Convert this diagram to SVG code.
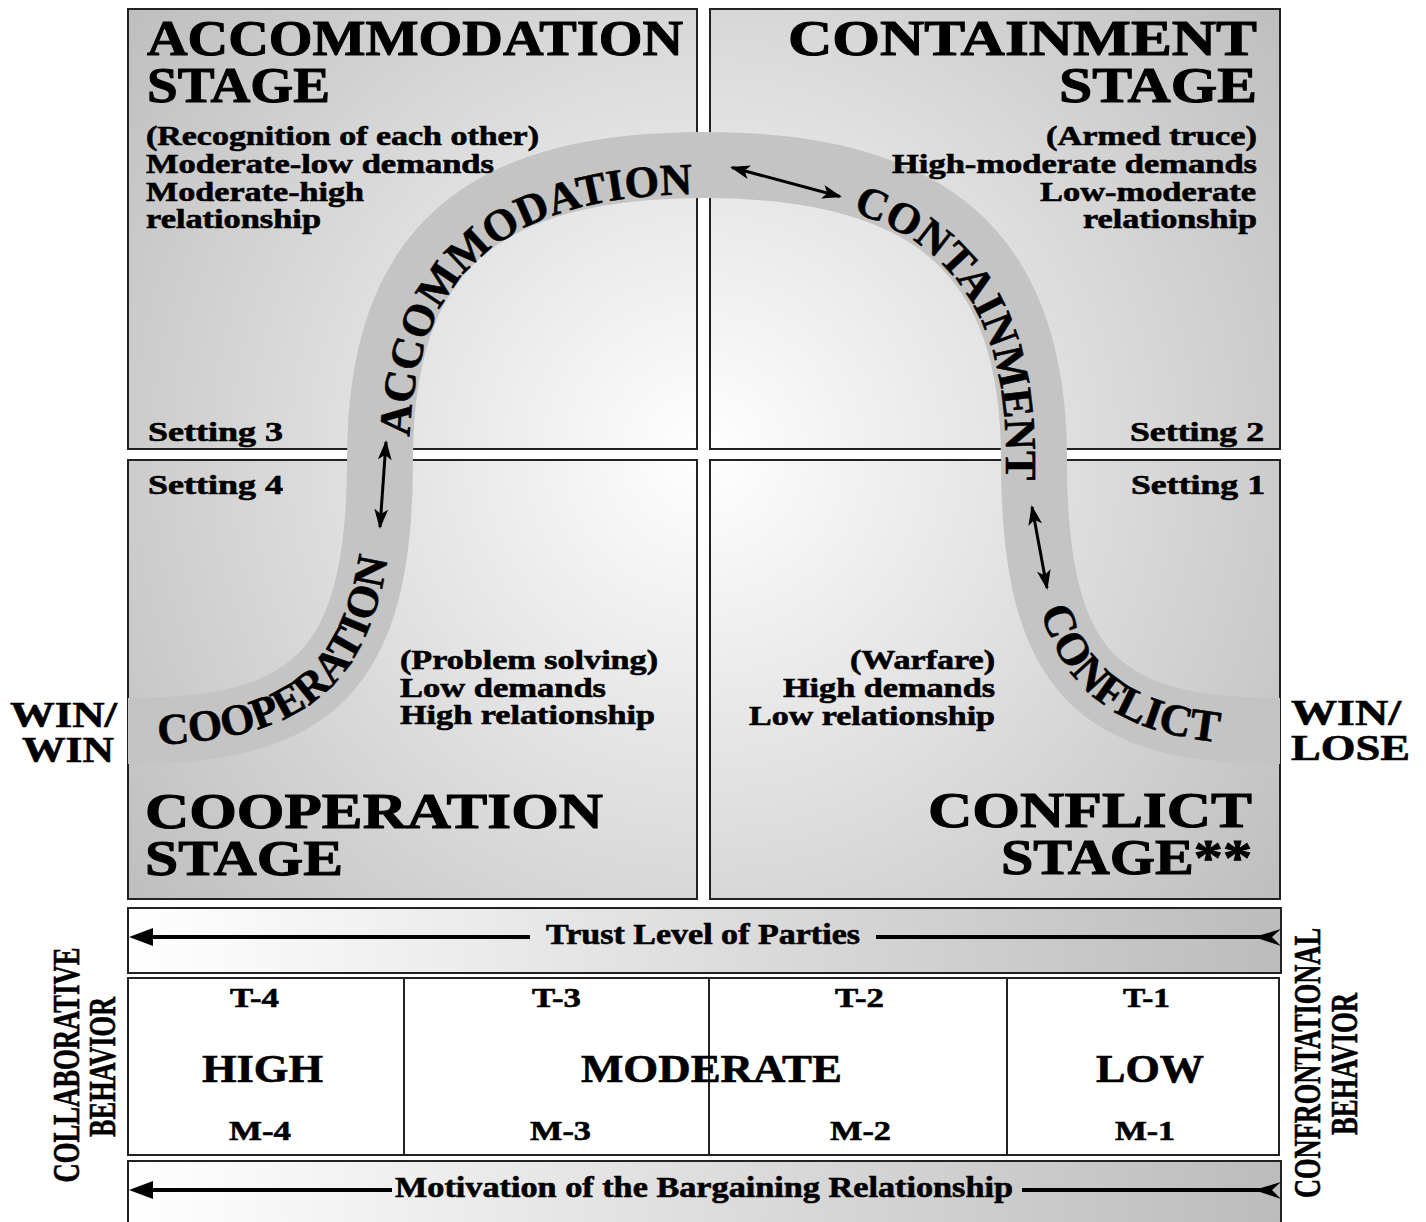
<svg xmlns="http://www.w3.org/2000/svg" width="1426" height="1222" viewBox="0 0 1426 1222">
<style>
.t{font-family:"Liberation Serif","Times New Roman",serif;font-weight:bold;fill:#000;stroke:#000;stroke-width:0.6}
.h{stroke-width:1}
.box{fill:url(#rg);stroke:#222;stroke-width:2}
.bar{fill:url(#lg);stroke:#222;stroke-width:2}
.ln{stroke:#000;stroke-width:4;fill:none}
.dbl{stroke:#000;stroke-width:3;fill:none;marker-start:url(#ah);marker-end:url(#ah)}
</style>
<defs>
<radialGradient id="rg" gradientUnits="userSpaceOnUse" cx="704" cy="454" r="740">
<stop offset="0" stop-color="#ffffff"/>
<stop offset="1" stop-color="#bdbdbd"/>
</radialGradient>
<linearGradient id="lg" x1="0" y1="0" x2="1" y2="0">
<stop offset="0" stop-color="#ffffff"/>
<stop offset="1" stop-color="#bcbcbc"/>
</linearGradient>
<marker id="ah" viewBox="0 0 20 14" refX="18" refY="7" markerWidth="20" markerHeight="14" orient="auto-start-reverse" markerUnits="userSpaceOnUse">
<path d="M0,0 L20,7 L0,14 L5,7 z" fill="#000"/>
</marker>
<path id="pAcc" d="M409,470 L409,460 C409,282 494,194 704,194 L780,194"/>
<path id="pCon" d="M704,193 C915,193 1006,274 1006,460 L1006,560"/>
<path id="pCoop" d="M128,745 C318,745 394,682 394,460 L394,420"/>
<path id="pConf" d="M1023,440 L1023,460 C1023,682 1094,745 1280,745 L1320,745"/>
</defs>

<rect width="1426" height="1222" fill="#fff"/>

<g id="setting3"><rect class="box" x="128" y="9" width="569" height="440"/></g>
<g id="setting2"><rect class="box" x="710" y="9" width="570" height="440"/></g>
<g id="setting4"><rect class="box" x="128" y="460" width="569" height="439"/></g>
<g id="setting1"><rect class="box" x="710" y="460" width="570" height="439"/></g>

<g id="curve">
<path d="M128,731 C310,731 380,675 380,460 C380,253 477,165 704,165 C931,165 1034,253 1034,460 C1034,675 1100,731 1280,731" fill="none" stroke="#c4c4c4" stroke-width="66"/>
<text class="t" font-size="44.5"><textPath href="#pAcc" startOffset="33">ACCOMMODATION</textPath></text>
<text class="t" font-size="44"><textPath href="#pCon" startOffset="150">CONTAINMENT</textPath></text>
<text class="t" font-size="44"><textPath href="#pCoop" startOffset="30">COOPERATION</textPath></text>
<text class="t" font-size="45"><textPath href="#pConf" startOffset="172">CONFLICT</textPath></text>
</g>

<g id="setting3-text">
<text class="t h" x="147" y="55" font-size="50" textLength="536" lengthAdjust="spacingAndGlyphs">ACCOMMODATION</text>
<text class="t h" x="147" y="102" font-size="50" textLength="183" lengthAdjust="spacingAndGlyphs">STAGE</text>
<text class="t" x="146" y="145" font-size="27" textLength="393" lengthAdjust="spacingAndGlyphs">(Recognition of each other)</text>
<text class="t" x="146" y="173" font-size="27" textLength="348" lengthAdjust="spacingAndGlyphs">Moderate-low demands</text>
<text class="t" x="146" y="201" font-size="27" textLength="218" lengthAdjust="spacingAndGlyphs">Moderate-high</text>
<text class="t" x="146" y="228" font-size="27" textLength="175" lengthAdjust="spacingAndGlyphs">relationship</text>
<text class="t" x="148" y="441" font-size="27" textLength="135" lengthAdjust="spacingAndGlyphs">Setting 3</text>
</g>

<g id="setting2-text">
<text class="t h" x="788" y="55" font-size="50" textLength="469" lengthAdjust="spacingAndGlyphs">CONTAINMENT</text>
<text class="t h" x="1059" y="102" font-size="50" textLength="198" lengthAdjust="spacingAndGlyphs">STAGE</text>
<text class="t" x="1046" y="145" font-size="27" textLength="211" lengthAdjust="spacingAndGlyphs">(Armed truce)</text>
<text class="t" x="892" y="173" font-size="27" textLength="365" lengthAdjust="spacingAndGlyphs">High-moderate demands</text>
<text class="t" x="1040" y="201" font-size="27" textLength="216" lengthAdjust="spacingAndGlyphs">Low-moderate</text>
<text class="t" x="1083" y="228" font-size="27" textLength="174" lengthAdjust="spacingAndGlyphs">relationship</text>
<text class="t" x="1130" y="441" font-size="27" textLength="134" lengthAdjust="spacingAndGlyphs">Setting 2</text>
</g>

<g id="setting4-text">
<text class="t" x="148" y="494" font-size="27" textLength="135" lengthAdjust="spacingAndGlyphs">Setting 4</text>
<text class="t" x="400" y="669" font-size="27" textLength="258" lengthAdjust="spacingAndGlyphs">(Problem solving)</text>
<text class="t" x="400" y="697" font-size="27" textLength="206" lengthAdjust="spacingAndGlyphs">Low demands</text>
<text class="t" x="400" y="724" font-size="27" textLength="255" lengthAdjust="spacingAndGlyphs">High relationship</text>
<text class="t h" x="145" y="828" font-size="50" textLength="458" lengthAdjust="spacingAndGlyphs">COOPERATION</text>
<text class="t h" x="145" y="875" font-size="50" textLength="198" lengthAdjust="spacingAndGlyphs">STAGE</text>
</g>

<g id="setting1-text">
<text class="t" x="1131" y="494" font-size="27" textLength="134" lengthAdjust="spacingAndGlyphs">Setting 1</text>
<text class="t" x="850" y="669" font-size="27" textLength="145" lengthAdjust="spacingAndGlyphs">(Warfare)</text>
<text class="t" x="783" y="697" font-size="27" textLength="212" lengthAdjust="spacingAndGlyphs">High demands</text>
<text class="t" x="749" y="725" font-size="27" textLength="246" lengthAdjust="spacingAndGlyphs">Low relationship</text>
<text class="t h" x="928" y="827" font-size="50" textLength="324" lengthAdjust="spacingAndGlyphs">CONFLICT</text>
<text class="t h" x="1001" y="874" font-size="50" textLength="251" lengthAdjust="spacingAndGlyphs">STAGE**</text>
</g>

<g id="connectors">
<line class="dbl" x1="732" y1="167.5" x2="840" y2="196.5"/>
<line class="dbl" x1="386" y1="442" x2="380" y2="527"/>
<line class="dbl" x1="1032" y1="507" x2="1047" y2="588"/>
</g>

<g id="win-win">
<text class="t" x="10" y="727" font-size="36" textLength="107" lengthAdjust="spacingAndGlyphs">WIN/</text>
<text class="t" x="22" y="762" font-size="36" textLength="92" lengthAdjust="spacingAndGlyphs">WIN</text>
</g>
<g id="win-lose">
<text class="t" x="1291" y="725" font-size="36" textLength="110" lengthAdjust="spacingAndGlyphs">WIN/</text>
<text class="t" x="1291" y="760" font-size="36" textLength="119" lengthAdjust="spacingAndGlyphs">LOSE</text>
</g>

<g id="trust-bar">
<rect class="bar" x="128" y="908" width="1153" height="65"/>
<line class="ln" x1="148" y1="937" x2="530" y2="937"/>
<polygon points="129,937 153,928 153,946" fill="#000"/>
<line class="ln" x1="876" y1="937" x2="1262" y2="937"/>
<polygon points="1254,937 1281,929 1272,937 1281,946" fill="#000"/>
<text class="t" x="546" y="944" font-size="29" textLength="314" lengthAdjust="spacingAndGlyphs">Trust Level of Parties</text>
</g>

<g id="level-table">
<rect x="128" y="978" width="1151" height="177" fill="#fff" stroke="#222" stroke-width="2"/>
<line x1="404" y1="978" x2="404" y2="1155" stroke="#222" stroke-width="2"/>
<line x1="709" y1="978" x2="709" y2="1155" stroke="#222" stroke-width="2"/>
<line x1="1007" y1="978" x2="1007" y2="1155" stroke="#222" stroke-width="2"/>
<text class="t" x="230" y="1007" font-size="28" textLength="49" lengthAdjust="spacingAndGlyphs">T-4</text>
<text class="t" x="532" y="1007" font-size="28" textLength="49" lengthAdjust="spacingAndGlyphs">T-3</text>
<text class="t" x="835" y="1007" font-size="28" textLength="49" lengthAdjust="spacingAndGlyphs">T-2</text>
<text class="t" x="1123" y="1007" font-size="28" textLength="47" lengthAdjust="spacingAndGlyphs">T-1</text>
<text class="t" x="202" y="1082" font-size="40" textLength="121" lengthAdjust="spacingAndGlyphs">HIGH</text>
<text class="t" x="581" y="1082" font-size="40" textLength="261" lengthAdjust="spacingAndGlyphs">MODERATE</text>
<text class="t" x="1096" y="1082" font-size="40" textLength="108" lengthAdjust="spacingAndGlyphs">LOW</text>
<text class="t" x="229" y="1140" font-size="28" textLength="62" lengthAdjust="spacingAndGlyphs">M-4</text>
<text class="t" x="530" y="1140" font-size="28" textLength="61" lengthAdjust="spacingAndGlyphs">M-3</text>
<text class="t" x="830" y="1140" font-size="28" textLength="61" lengthAdjust="spacingAndGlyphs">M-2</text>
<text class="t" x="1115" y="1140" font-size="28" textLength="60" lengthAdjust="spacingAndGlyphs">M-1</text>
</g>

<g id="motivation-bar">
<rect class="bar" x="128" y="1161" width="1153" height="75"/>
<line class="ln" x1="148" y1="1190" x2="392" y2="1190"/>
<polygon points="129,1190 153,1181 153,1199" fill="#000"/>
<line class="ln" x1="1022" y1="1190" x2="1262" y2="1190"/>
<polygon points="1254,1190 1281,1182 1272,1190 1281,1199" fill="#000"/>
<text class="t" x="395" y="1197" font-size="29" textLength="618" lengthAdjust="spacingAndGlyphs">Motivation of the Bargaining Relationship</text>
</g>

<g id="collaborative">
<text class="t" font-size="38" text-anchor="middle" transform="translate(79,1065) rotate(-90)" textLength="235" lengthAdjust="spacingAndGlyphs">COLLABORATIVE</text>
<text class="t" font-size="38" text-anchor="middle" transform="translate(115,1067) rotate(-90)" textLength="140" lengthAdjust="spacingAndGlyphs">BEHAVIOR</text>
</g>
<g id="confrontational">
<text class="t" font-size="38" text-anchor="middle" transform="translate(1320,1063) rotate(-90)" textLength="270" lengthAdjust="spacingAndGlyphs">CONFRONTATIONAL</text>
<text class="t" font-size="38" text-anchor="middle" transform="translate(1357,1064) rotate(-90)" textLength="142" lengthAdjust="spacingAndGlyphs">BEHAVIOR</text>
</g>
</svg>
